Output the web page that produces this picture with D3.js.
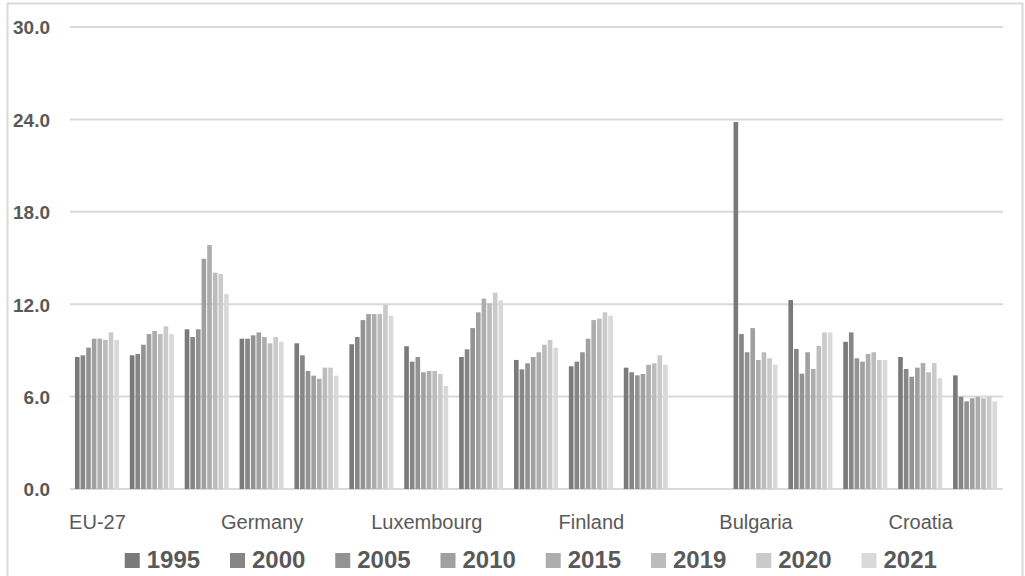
<!DOCTYPE html>
<html>
<head>
<meta charset="utf-8">
<script src="https://cdn.jsdelivr.net/npm/d3@7"></script>
<style>
  html, body { margin: 0; padding: 0; background: #ffffff; }
  svg { display: block; }
</style>
</head>
<body>
<svg id="chart" width="1025" height="576"></svg>
<script>
// ---- data ----
const categories = ["EU-27", "Euro area", "Denmark", "Germany", "France", "Netherlands",
  "Luxembourg", "Austria", "Sweden", "Finland", "Belgium", "Romania",
  "Bulgaria", "Czechia", "Hungary", "Croatia", "Poland"];
const years = ["1995", "2000", "2005", "2010", "2015", "2019", "2020", "2021"];
const yTicks = [0, 6, 12, 18, 24, 30];

const v1995 = [8.57, 8.68, 10.37, 9.76, 9.46, 9.40, 9.27, 8.57, 8.38, 7.97, 7.88, null, 23.83, 12.27, 9.56, 8.57, 7.38];
const v2000 = [8.68, 8.77, 9.87, 9.76, 8.68, 9.87, 8.27, 9.07, 7.77, 8.27, 7.58, null, 10.06, 9.09, 10.17, 7.79, 5.99];
const v2005 = [9.18, 9.37, 10.37, 9.98, 7.66, 10.97, 8.57, 10.45, 8.16, 8.88, 7.38, null, 8.88, 7.49, 8.49, 7.29, 5.69];
const v2010 = [9.76, 10.06, 14.95, 10.17, 7.36, 11.36, 7.58, 11.47, 8.57, 9.76, 7.47, null, 10.45, 8.88, 8.27, 7.88, 5.89];
const v2015 = [9.76, 10.26, 15.84, 9.87, 7.16, 11.36, 7.66, 12.36, 8.88, 10.97, 8.07, null, 8.38, 7.79, 8.77, 8.18, 5.99];
const v2019 = [9.68, 10.06, 14.05, 9.46, 7.88, 11.36, 7.66, 12.06, 9.37, 11.06, 8.16, null, 8.88, 9.29, 8.88, 7.58, 5.89];
const v2020 = [10.17, 10.56, 13.96, 9.87, 7.88, 11.95, 7.47, 12.75, 9.68, 11.47, 8.68, null, 8.49, 10.17, 8.38, 8.18, 5.99];
const v2021 = [9.68, 10.06, 12.66, 9.56, 7.36, 11.25, 6.69, 12.25, 9.18, 11.25, 8.07, null, 8.07, 10.17, 8.38, 7.19, 5.69];
const seriesValues = [v1995, v2000, v2005, v2010, v2015, v2019, v2020, v2021];
const seriesColors = ["#7a7a7a", "#868686", "#939393", "#a0a0a0", "#adadad", "#bcbcbc", "#cacaca", "#d9d9d9"];

// ---- layout ----
const svg = d3.select("#chart");
const plot = { left: 70, right: 1003, top: 27, bottom: 489 };

// chart border
svg.append("rect")
  .attr("x", 7.5).attr("y", 3.5)
  .attr("width", 1015).attr("height", 620)
  .attr("fill", "none").attr("stroke", "#d9d9d9").attr("stroke-width", 2);

const x = d3.scaleBand().domain(categories)
  .range([plot.left, plot.right]).paddingInner(0.18).paddingOuter(0.09);
const xs = d3.scaleBand().domain(years).range([0, x.bandwidth()]).padding(0);
const y = d3.scaleLinear().domain([0, 30]).range([plot.bottom, plot.top]);

// gridlines
svg.append("g").selectAll("line").data(yTicks).join("line")
  .attr("x1", plot.left).attr("x2", plot.right)
  .attr("y1", d => y(d)).attr("y2", d => y(d))
  .attr("stroke", "#d9d9d9").attr("stroke-width", 2);

// y axis labels
const yAxis = d3.axisLeft(y).tickValues(yTicks).tickFormat(d3.format(".1f")).tickSize(0).tickPadding(0);
const yg = svg.append("g").attr("transform", "translate(50,0)").call(yAxis);
yg.select(".domain").remove();
yg.selectAll("text")
  .attr("fill", "#595959")
  .style("font-family", "'Liberation Sans', Arial, sans-serif")
  .style("font-size", "19px").style("font-weight", "bold")
  .attr("dy", "0.36em");

// bars
const groups = svg.append("g").selectAll("g").data(years).join("g")
  .attr("fill", (d, i) => seriesColors[i]);
groups.selectAll("rect")
  .data((yr, si) => categories.map((c, ci) => ({ c, yr, v: seriesValues[si][ci] })).filter(d => d.v !== null))
  .join("rect")
  .attr("x", d => x(d.c) + xs(d.yr))
  .attr("width", xs.bandwidth() - 1)
  .attr("y", d => y(d.v))
  .attr("height", d => y(0) - y(d.v));

// x axis labels (every third category shown)
const xAxis = d3.axisBottom(x).tickValues(categories.filter((d, i) => i % 3 === 0)).tickSize(0).tickPadding(0);
const xg = svg.append("g").attr("transform", "translate(0,529)").call(xAxis);
xg.select(".domain").remove();
xg.selectAll("text")
  .attr("y", 0).attr("dy", 0)
  .attr("fill", "#595959")
  .style("font-family", "'Liberation Sans', Arial, sans-serif")
  .style("font-size", "20px");

// legend
const legend = svg.append("g").selectAll("g").data(years).join("g")
  .attr("transform", (d, i) => `translate(${124.75 + 105.25 * i},568)`);
legend.append("rect")
  .attr("x", 0).attr("y", -15).attr("width", 15).attr("height", 15)
  .attr("fill", (d, i) => seriesColors[i]);
legend.append("text")
  .attr("x", 22).attr("y", 0)
  .attr("fill", "#595959")
  .style("font-family", "'Liberation Sans', Arial, sans-serif")
  .style("font-size", "24px").style("font-weight", "bold")
  .text(d => d);
</script>
</body>
</html>
